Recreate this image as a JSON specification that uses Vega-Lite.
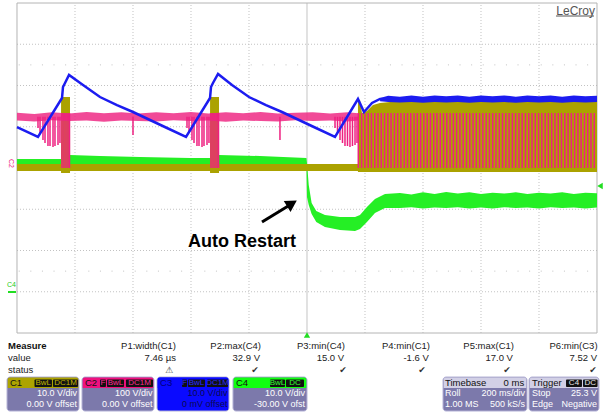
{
"$schema":"https://vega.github.io/schema/vega-lite/v6.json",
"width":605,"height":413,
"autosize":{"type":"fit","contains":"padding"},
"padding":0,
"background":"white",
"config":{"view":{"stroke":null},"text":{"font":"Liberation Sans"}},
"datasets":{
"grid":[{"x":1,"x2":1,"y":0,"y2":8},{"x":2,"x2":2,"y":0,"y2":8},{"x":3,"x2":3,"y":0,"y2":8},{"x":4,"x2":4,"y":0,"y2":8},{"x":6,"x2":6,"y":0,"y2":8},{"x":7,"x2":7,"y":0,"y2":8},{"x":8,"x2":8,"y":0,"y2":8},{"x":9,"x2":9,"y":0,"y2":8},
{"x":0,"x2":10,"y":1,"y2":1},{"x":0,"x2":10,"y":2,"y2":2},{"x":0,"x2":10,"y":3,"y2":3},{"x":0,"x2":10,"y":4,"y2":4},{"x":0,"x2":10,"y":5,"y2":5},{"x":0,"x2":10,"y":6,"y2":6},{"x":0,"x2":10,"y":7,"y2":7}],
"dotrows":[{"x":0.03,"x2":10,"y":6.5,"y2":6.5},{"x":0.03,"x2":10,"y":1.5,"y2":1.5}],
"center":[{"x":5,"x2":5,"y":0,"y2":8}],
"frame":[{"x":0,"x2":10,"y":0,"y2":8}],
"ticks":[{"y":0.2},{"y":0.4},{"y":0.6},{"y":0.8},{"y":1.0},{"y":1.2},{"y":1.4},{"y":1.6},{"y":1.8},{"y":2.0},{"y":2.2},{"y":2.4},{"y":2.6},{"y":2.8},{"y":3.0},{"y":3.2},{"y":3.4},{"y":3.6},{"y":3.8},{"y":4.0},{"y":4.2},{"y":4.4},{"y":4.6},{"y":4.8},{"y":5.0},{"y":5.2},{"y":5.4},{"y":5.6},{"y":5.8},{"y":6.0},{"y":6.2},{"y":6.4},{"y":6.6},{"y":6.8},{"y":7.0},{"y":7.2},{"y":7.4},{"y":7.6},{"y":7.8}],
"green":[{"x":0,"y":4.218,"y2":4.048},{"x":0.759,"y":4.218,"y2":4.048},{"x":0.914,"y":4.315,"y2":4.048},{"x":1.431,"y":4.291,"y2":4.048},{"x":2.121,"y":4.267,"y2":4.048},{"x":2.983,"y":4.242,"y2":4.048},{"x":3.328,"y":4.242,"y2":4.048},{"x":3.483,"y":4.315,"y2":4.048},{"x":4.19,"y":4.291,"y2":4.048},{"x":4.99,"y":4.242,"y2":4.048},
{"x":5.0,"y":4.12,"y2":3.297},{"x":5.03,"y":3.588,"y2":3.103},{"x":5.08,"y":3.152,"y2":2.885},{"x":5.16,"y":2.958,"y2":2.691},{"x":5.31,"y":2.861,"y2":2.57},{"x":5.569,"y":2.812,"y2":2.497},{"x":5.828,"y":2.812,"y2":2.473},{"x":5.914,"y":2.861,"y2":2.521},{"x":6.034,"y":3.055,"y2":2.691},{"x":6.172,"y":3.248,"y2":2.909},{"x":6.345,"y":3.37,"y2":3.03},{"x":6.603,"y":3.394,"y2":3.03},
{"x":6.8,"y":3.36,"y2":3.05},{"x":7.0,"y":3.41,"y2":3.02},{"x":7.2,"y":3.37,"y2":3.04},{"x":7.4,"y":3.42,"y2":3.03},{"x":7.6,"y":3.38,"y2":3.05},{"x":7.8,"y":3.41,"y2":3.02},{"x":8.0,"y":3.37,"y2":3.04},{"x":8.2,"y":3.4,"y2":3.02},{"x":8.4,"y":3.38,"y2":3.05},{"x":8.6,"y":3.41,"y2":3.03},{"x":8.8,"y":3.37,"y2":3.04},{"x":9.0,"y":3.4,"y2":3.02},{"x":9.2,"y":3.38,"y2":3.05},{"x":9.4,"y":3.41,"y2":3.03},{"x":9.6,"y":3.37,"y2":3.04},{"x":9.8,"y":3.4,"y2":3.02},{"x":10.0,"y":3.39,"y2":3.04}],
"olive":[{"x":0,"y":4.097,"y2":3.927},{"x":0.759,"y":4.097,"y2":3.927},{"x":0.76,"y":5.721,"y2":3.879},{"x":0.914,"y":5.721,"y2":3.879},{"x":0.915,"y":4.097,"y2":3.927},{"x":3.328,"y":4.097,"y2":3.927},{"x":3.329,"y":5.721,"y2":3.879},{"x":3.483,"y":5.721,"y2":3.879},{"x":3.484,"y":4.097,"y2":3.927},{"x":5.878,"y":4.097,"y2":3.927},{"x":5.879,"y":5.648,"y2":3.903},{"x":5.914,"y":5.648,"y2":3.903},{"x":5.948,"y":5.333,"y2":3.903},{"x":6.034,"y":5.382,"y2":3.903},{"x":6.138,"y":5.527,"y2":3.903},{"x":6.259,"y":5.576,"y2":3.903},{"x":6.431,"y":5.6,"y2":3.903},{"x":6.603,"y":5.624,"y2":3.903},{"x":10.0,"y":5.612,"y2":3.903}],
"magband":[{"x":0,"y":5.34,"y2":5.15},{"x":0.3,"y":5.31,"y2":5.13},{"x":0.6,"y":5.35,"y2":5.16},{"x":0.9,"y":5.32,"y2":5.14},{"x":1.2,"y":5.36,"y2":5.15},{"x":1.5,"y":5.33,"y2":5.12},{"x":1.8,"y":5.35,"y2":5.15},{"x":2.1,"y":5.32,"y2":5.14},{"x":2.4,"y":5.35,"y2":5.13},{"x":2.7,"y":5.33,"y2":5.16},{"x":3.0,"y":5.36,"y2":5.14},{"x":3.3,"y":5.32,"y2":5.15},{"x":3.6,"y":5.35,"y2":5.12},{"x":3.9,"y":5.33,"y2":5.15},{"x":4.2,"y":5.36,"y2":5.14},{"x":4.5,"y":5.32,"y2":5.13},{"x":4.8,"y":5.34,"y2":5.16},{"x":5.1,"y":5.35,"y2":5.14},{"x":5.4,"y":5.32,"y2":5.15},{"x":5.7,"y":5.35,"y2":5.13},{"x":5.879,"y":5.33,"y2":5.15}],
"mag":[{"x":0.362,"y":5.24,"y2":4.97},{"x":0.397,"y":5.24,"y2":4.848},{"x":0.448,"y":5.24,"y2":4.679},{"x":0.483,"y":5.24,"y2":4.606},{"x":0.534,"y":5.24,"y2":4.533},{"x":0.569,"y":5.24,"y2":4.533},{"x":0.621,"y":5.24,"y2":4.509},{"x":0.655,"y":5.24,"y2":4.533},{"x":0.707,"y":5.24,"y2":4.558},{"x":0.741,"y":5.24,"y2":4.606},
{"x":2.931,"y":5.24,"y2":4.97},{"x":2.966,"y":5.24,"y2":4.848},{"x":3.017,"y":5.24,"y2":4.679},{"x":3.052,"y":5.24,"y2":4.606},{"x":3.103,"y":5.24,"y2":4.533},{"x":3.138,"y":5.24,"y2":4.533},{"x":3.19,"y":5.24,"y2":4.509},{"x":3.224,"y":5.24,"y2":4.533},{"x":3.276,"y":5.24,"y2":4.558},{"x":3.31,"y":5.24,"y2":4.606},
{"x":5.483,"y":5.24,"y2":4.97},{"x":5.526,"y":5.24,"y2":4.848},{"x":5.569,"y":5.24,"y2":4.679},{"x":5.612,"y":5.24,"y2":4.606},{"x":5.655,"y":5.24,"y2":4.533},{"x":5.698,"y":5.24,"y2":4.533},{"x":5.741,"y":5.24,"y2":4.509},{"x":5.784,"y":5.24,"y2":4.533},{"x":5.828,"y":5.24,"y2":4.558},{"x":5.862,"y":5.24,"y2":4.606},
{"x":2.0,"y":5.24,"y2":4.8},{"x":4.534,"y":5.24,"y2":4.679},
{"x":0.776,"y":5.333,"y2":4.0},{"x":0.81,"y":5.333,"y2":4.0},{"x":0.845,"y":5.333,"y2":4.0},{"x":0.879,"y":5.333,"y2":4.0},{"x":0.905,"y":5.333,"y2":4.0},{"x":3.345,"y":5.333,"y2":4.0},{"x":3.379,"y":5.333,"y2":4.0},{"x":3.414,"y":5.333,"y2":4.0},{"x":3.448,"y":5.333,"y2":4.0},{"x":3.474,"y":5.333,"y2":4.0},
{"x":5.885,"y":5.333,"y2":4.0},{"x":5.942,"y":5.333,"y2":4.0},{"x":5.998,"y":5.333,"y2":4.0},{"x":6.055,"y":5.333,"y2":4.0},{"x":6.111,"y":5.333,"y2":4.0},{"x":6.168,"y":5.333,"y2":4.0},{"x":6.224,"y":5.333,"y2":4.0},{"x":6.281,"y":5.333,"y2":4.0},{"x":6.337,"y":5.333,"y2":4.0},{"x":6.394,"y":5.333,"y2":4.0},{"x":6.45,"y":5.333,"y2":4.0},{"x":6.507,"y":5.333,"y2":4.0},{"x":6.563,"y":5.333,"y2":4.0},{"x":6.62,"y":5.333,"y2":4.0},{"x":6.676,"y":5.333,"y2":4.0},{"x":6.733,"y":5.333,"y2":4.0},{"x":6.789,"y":5.333,"y2":4.0},{"x":6.846,"y":5.333,"y2":4.0},{"x":6.902,"y":5.333,"y2":4.0},{"x":6.959,"y":5.333,"y2":4.0},{"x":7.015,"y":5.333,"y2":4.0},{"x":7.072,"y":5.333,"y2":4.0},{"x":7.128,"y":5.333,"y2":4.0},{"x":7.185,"y":5.333,"y2":4.0},{"x":7.241,"y":5.333,"y2":4.0},{"x":7.298,"y":5.333,"y2":4.0},{"x":7.354,"y":5.333,"y2":4.0},{"x":7.411,"y":5.333,"y2":4.0},{"x":7.467,"y":5.333,"y2":4.0},{"x":7.524,"y":5.333,"y2":4.0},{"x":7.58,"y":5.333,"y2":4.0},{"x":7.637,"y":5.333,"y2":4.0},{"x":7.693,"y":5.333,"y2":4.0},{"x":7.75,"y":5.333,"y2":4.0},{"x":7.806,"y":5.333,"y2":4.0},{"x":7.863,"y":5.333,"y2":4.0},{"x":7.919,"y":5.333,"y2":4.0},{"x":7.976,"y":5.333,"y2":4.0},{"x":8.032,"y":5.333,"y2":4.0},{"x":8.089,"y":5.333,"y2":4.0},{"x":8.145,"y":5.333,"y2":4.0},{"x":8.202,"y":5.333,"y2":4.0},{"x":8.258,"y":5.333,"y2":4.0},{"x":8.315,"y":5.333,"y2":4.0},{"x":8.371,"y":5.333,"y2":4.0},{"x":8.428,"y":5.333,"y2":4.0},{"x":8.484,"y":5.333,"y2":4.0},{"x":8.541,"y":5.333,"y2":4.0},{"x":8.597,"y":5.333,"y2":4.0},{"x":8.654,"y":5.333,"y2":4.0},{"x":8.71,"y":5.333,"y2":4.0},{"x":8.767,"y":5.333,"y2":4.0},{"x":8.823,"y":5.333,"y2":4.0},{"x":8.88,"y":5.333,"y2":4.0},{"x":8.936,"y":5.333,"y2":4.0},{"x":8.993,"y":5.333,"y2":4.0},{"x":9.049,"y":5.333,"y2":4.0},{"x":9.106,"y":5.333,"y2":4.0},{"x":9.162,"y":5.333,"y2":4.0},{"x":9.219,"y":5.333,"y2":4.0},{"x":9.275,"y":5.333,"y2":4.0},{"x":9.332,"y":5.333,"y2":4.0},{"x":9.388,"y":5.333,"y2":4.0},{"x":9.445,"y":5.333,"y2":4.0},{"x":9.501,"y":5.333,"y2":4.0},{"x":9.558,"y":5.333,"y2":4.0},{"x":9.614,"y":5.333,"y2":4.0},{"x":9.671,"y":5.333,"y2":4.0},{"x":9.727,"y":5.333,"y2":4.0},{"x":9.784,"y":5.333,"y2":4.0},{"x":9.84,"y":5.333,"y2":4.0},{"x":9.897,"y":5.333,"y2":4.0},{"x":9.953,"y":5.333,"y2":4.0}],
"blueband":[{"x":6.26,"y":5.7,"y2":5.62},{"x":6.4,"y":5.75,"y2":5.6},{"x":6.6,"y":5.73,"y2":5.59},{"x":6.8,"y":5.76,"y2":5.6},{"x":7.0,"y":5.73,"y2":5.58},{"x":7.2,"y":5.76,"y2":5.6},{"x":7.4,"y":5.74,"y2":5.59},{"x":7.6,"y":5.76,"y2":5.6},{"x":7.8,"y":5.73,"y2":5.58},{"x":8.0,"y":5.76,"y2":5.6},{"x":8.2,"y":5.74,"y2":5.59},{"x":8.4,"y":5.76,"y2":5.6},{"x":8.6,"y":5.73,"y2":5.58},{"x":8.8,"y":5.76,"y2":5.6},{"x":9.0,"y":5.74,"y2":5.59},{"x":9.2,"y":5.76,"y2":5.6},{"x":9.4,"y":5.73,"y2":5.58},{"x":9.6,"y":5.76,"y2":5.6},{"x":9.8,"y":5.74,"y2":5.59},{"x":10.0,"y":5.75,"y2":5.6}],
"blue":[{"x":0,"y":4.994},{"x":0.362,"y":4.752},{"x":0.776,"y":5.697},{"x":0.793,"y":5.964},{"x":0.828,"y":6.061},{"x":0.897,"y":6.255},{"x":1.138,"y":6.012},{"x":1.431,"y":5.721},{"x":1.724,"y":5.527},{"x":2.0,"y":5.358},{"x":2.293,"y":5.164},{"x":2.586,"y":4.97},{"x":2.914,"y":4.752},{"x":3.328,"y":5.697},{"x":3.345,"y":5.964},{"x":3.379,"y":6.061},{"x":3.466,"y":6.279},{"x":3.707,"y":6.012},{"x":4.0,"y":5.721},{"x":4.293,"y":5.527},{"x":4.569,"y":5.358},{"x":4.862,"y":5.164},{"x":5.155,"y":4.97},{"x":5.483,"y":4.752},{"x":5.879,"y":5.673},{"x":5.983,"y":5.358},{"x":6.121,"y":5.576},{"x":6.259,"y":5.673},{"x":10.0,"y":5.67}],
"arrow":[{"x":4.224,"y":2.691,"x2":4.69,"y2":3.091}],
"arrowhead":[{"x":4.741,"y":3.139}],
"anno":[{"x":2.948,"y":2.085,"t":"Auto Restart"}],
"logo":[{"x":9.966,"y":7.721,"t":"LeCroy"}],
"logoline":[{"x":9.293,"x2":9.948,"y":7.685,"y2":7.685}],
"trigB":[{"x":5,"y":-0.048}],
"trigR":[{"x":10.052,"y":3.564}],
"c2lab":[{"x":-0.103,"y":4.109,"t":"C2"}],
"c4lab":[{"x":-0.095,"y":1.152,"t":"C4"}],
"c4line":[{"x":-0.155,"x2":-0.017,"y":0.994,"y2":0.994}],
"mBold":[{"x":-0.155,"y":-0.315,"t":"Measure"}],
"mLeft":[{"x":-0.155,"y":-0.594,"t":"value"},{"x":-0.155,"y":-0.897,"t":"status"}],
"mRight":[{"x":2.741,"y":-0.315,"t":"P1:width(C1)"},{"x":4.207,"y":-0.315,"t":"P2:max(C4)"},{"x":5.655,"y":-0.315,"t":"P3:min(C4)"},{"x":7.121,"y":-0.315,"t":"P4:min(C1)"},{"x":8.569,"y":-0.315,"t":"P5:max(C1)"},{"x":10.01,"y":-0.315,"t":"P6:min(C3)"},
{"x":2.741,"y":-0.594,"t":"7.46 µs"},{"x":4.19,"y":-0.594,"t":"32.9 V"},{"x":5.64,"y":-0.594,"t":"15.0 V"},{"x":7.1,"y":-0.594,"t":"-1.6 V"},{"x":8.55,"y":-0.594,"t":"17.0 V"},{"x":10.0,"y":-0.594,"t":"7.52 V"}],
"mStat":[{"x":2.621,"y":-0.897,"t":"⚠"},{"x":4.103,"y":-0.897,"t":"✔"},{"x":5.621,"y":-0.897,"t":"✔"},{"x":6.983,"y":-0.897,"t":"✔"},{"x":8.448,"y":-0.897,"t":"✔"},{"x":9.931,"y":-0.897,"t":"✔"}],
"boxes":[{"ch":"C1","x":-0.172,"x2":1.069,"y":-1.067,"y2":-1.891},{"ch":"C2","x":1.121,"x2":2.362,"y":-1.067,"y2":-1.891},{"ch":"C3","x":2.414,"x2":3.655,"y":-1.067,"y2":-1.891},{"ch":"C4","x":3.724,"x2":5.0,"y":-1.067,"y2":-1.891},{"ch":"TB","x":7.345,"x2":8.793,"y":-1.067,"y2":-1.891},{"ch":"TR","x":8.828,"x2":10.034,"y":-1.067,"y2":-1.891}],
"heads":[{"ch":"C1","x":-0.16,"x2":1.057,"y":-1.079,"y2":-1.333},{"ch":"C2","x":1.133,"x2":2.35,"y":-1.079,"y2":-1.333},{"ch":"C3","x":2.426,"x2":3.643,"y":-1.079,"y2":-1.333},{"ch":"C4","x":3.736,"x2":4.988,"y":-1.079,"y2":-1.333},{"ch":"TB","x":7.357,"x2":8.781,"y":-1.079,"y2":-1.333},{"ch":"TR","x":8.84,"x2":10.022,"y":-1.079,"y2":-1.333}],
"badges":[{"ch":"C1","x":0.302,"x2":0.603,"y":-1.127,"y2":-1.309,"t":"BwL"},{"ch":"C1","x":0.621,"x2":1.052,"y":-1.127,"y2":-1.309,"t":"DC1M"},
{"ch":"C2","x":1.431,"x2":1.534,"y":-1.127,"y2":-1.309,"t":"F"},{"ch":"C2","x":1.552,"x2":1.845,"y":-1.127,"y2":-1.309,"t":"BwL"},{"ch":"C2","x":1.879,"x2":2.345,"y":-1.127,"y2":-1.309,"t":"DC1M"},
{"ch":"C3","x":2.845,"x2":2.931,"y":-1.127,"y2":-1.309,"t":"F"},{"ch":"C3","x":2.948,"x2":3.241,"y":-1.127,"y2":-1.309,"t":"BwL"},{"ch":"C3","x":3.276,"x2":3.638,"y":-1.127,"y2":-1.309,"t":"DC1M"},
{"ch":"C4","x":4.362,"x2":4.621,"y":-1.127,"y2":-1.309,"t":"BwL"},{"ch":"C4","x":4.638,"x2":4.948,"y":-1.127,"y2":-1.309,"t":"DC"},
{"ch":"TR","x":9.466,"x2":9.741,"y":-1.127,"y2":-1.309,"t":"C4"},{"ch":"TR","x":9.759,"x2":10.01,"y":-1.127,"y2":-1.309,"t":"DC"}],
"badgeTxt":[{"ch":"C1","x":0.453,"y":-1.218,"t":"BwL"},{"ch":"C1","x":0.836,"y":-1.218,"t":"DC1M"},{"ch":"C2","x":1.483,"y":-1.218,"t":"F"},{"ch":"C2","x":1.698,"y":-1.218,"t":"BwL"},{"ch":"C2","x":2.112,"y":-1.218,"t":"DC1M"},{"ch":"C3","x":2.888,"y":-1.218,"t":"F"},{"ch":"C3","x":3.095,"y":-1.218,"t":"BwL"},{"ch":"C3","x":3.457,"y":-1.218,"t":"DC1M"},{"ch":"C4","x":4.491,"y":-1.218,"t":"BwL"},{"ch":"C4","x":4.793,"y":-1.218,"t":"DC"},{"ch":"TR","x":9.603,"y":-1.218,"t":"C4"},{"ch":"TR","x":9.885,"y":-1.218,"t":"DC"}],
"headTxt":[{"ch":"C1","x":-0.121,"y":-1.212,"t":"C1"},{"ch":"C2","x":1.172,"y":-1.212,"t":"C2"},{"ch":"C3","x":2.466,"y":-1.212,"t":"C3"},{"ch":"C4","x":3.776,"y":-1.212,"t":"C4"},{"ch":"TB","x":7.379,"y":-1.212,"t":"Timebase"},{"ch":"TR","x":8.879,"y":-1.212,"t":"Trigger"}],
"headTxtR":[{"x":8.745,"y":-1.212,"t":"0 ms"}],
"bodyR":[{"ch":"C1","x":1.034,"y":-1.455,"t":"10.0 V/div"},{"ch":"C1","x":1.034,"y":-1.721,"t":"0.00 V offset"},{"ch":"C2","x":2.335,"y":-1.455,"t":"100 V/div"},{"ch":"C2","x":2.335,"y":-1.721,"t":"0.00 V offset"},{"ch":"C3","x":3.628,"y":-1.455,"t":"10.0 V/div"},{"ch":"C3","x":3.628,"y":-1.721,"t":"0 mV offset"},{"ch":"C4","x":4.966,"y":-1.455,"t":"10.0 V/div"},{"ch":"C4","x":4.966,"y":-1.721,"t":"-30.00 V ofst"},{"ch":"TB","x":8.76,"y":-1.455,"t":"200 ms/div"},{"ch":"TB","x":8.76,"y":-1.721,"t":"500 kS/s"},{"ch":"TR","x":10.0,"y":-1.455,"t":"25.3 V"},{"ch":"TR","x":10.0,"y":-1.721,"t":"Negative"}],
"bodyL":[{"x":7.379,"y":-1.455,"t":"Roll"},{"x":7.379,"y":-1.721,"t":"1.00 MS"},{"x":8.879,"y":-1.455,"t":"Stop"},{"x":8.879,"y":-1.721,"t":"Edge"}]
},
"encoding":{
"x":{"field":"x","type":"quantitative","scale":{"domain":[-0.293,10.138],"nice":false,"zero":false},"axis":null},
"y":{"field":"y","type":"quantitative","scale":{"domain":[-1.939,8.073],"nice":false,"zero":false},"axis":null}
},
"resolve":{"scale":{"color":"independent"}},
"layer":[
{"data":{"name":"grid"},"mark":{"type":"rule","color":"#c2c2c2","strokeWidth":1,"strokeDash":[1,2]},"encoding":{"x2":{"field":"x2"},"y2":{"field":"y2"}}},
{"data":{"name":"dotrows"},"mark":{"type":"rule","color":"#c2c2c2","strokeWidth":1,"strokeDash":[1,10.6]},"encoding":{"x2":{"field":"x2"},"y2":{"field":"y2"}}},
{"data":{"name":"center"},"mark":{"type":"rule","color":"#c4c4c4","strokeWidth":1},"encoding":{"x2":{"field":"x2"},"y2":{"field":"y2"}}},
{"data":{"name":"ticks"},"mark":{"type":"rule","color":"#b8b8b8","strokeWidth":1},"encoding":{"x":{"datum":4.955,"type":"quantitative","scale":{"domain":[-0.293,10.138],"nice":false,"zero":false},"axis":null},"x2":{"datum":5.045}}},
{"data":{"name":"frame"},"mark":{"type":"rect","fillOpacity":0,"stroke":"#b4b4b4","strokeWidth":1},"encoding":{"x2":{"field":"x2"},"y2":{"field":"y2"}}},
{"data":{"name":"green"},"mark":{"type":"area","color":"#25ef25"},"encoding":{"y2":{"field":"y2"}}},
{"data":{"name":"olive"},"mark":{"type":"area","color":"#aba200"},"encoding":{"y2":{"field":"y2"}}},
{"data":{"name":"magband"},"mark":{"type":"area","color":"#ee2a85","opacity":0.85},"encoding":{"y2":{"field":"y2"}}},
{"data":{"name":"mag"},"mark":{"type":"rule","color":"#ee2080","strokeWidth":1.5},"encoding":{"y2":{"field":"y2"}}},
{"data":{"name":"blueband"},"mark":{"type":"area","color":"#1c1cf0"},"encoding":{"y2":{"field":"y2"}}},
{"data":{"name":"blue"},"mark":{"type":"line","color":"#1c1cf0","strokeWidth":2.5},"encoding":{}},
{"data":{"name":"trigB"},"mark":{"type":"point","shape":"triangle-up","filled":true,"color":"#22dd22","size":40,"opacity":1},"encoding":{}},
{"data":{"name":"trigR"},"mark":{"type":"point","shape":"triangle-left","filled":true,"color":"#22dd22","size":40,"opacity":1},"encoding":{}},
{"data":{"name":"c2lab"},"mark":{"type":"text","color":"#ee2080","fontSize":7,"angle":90,"align":"center","baseline":"middle"},"encoding":{"text":{"field":"t"}}},
{"data":{"name":"c4lab"},"mark":{"type":"text","color":"#22cc22","fontSize":7,"align":"center","baseline":"middle"},"encoding":{"text":{"field":"t"}}},
{"data":{"name":"c4line"},"mark":{"type":"rule","color":"#22dd22","strokeWidth":2},"encoding":{"x2":{"field":"x2"},"y2":{"field":"y2"}}},
{"data":{"name":"logo"},"mark":{"type":"text","color":"#555555","fontSize":12,"align":"right","baseline":"alphabetic"},"encoding":{"text":{"field":"t"}}},
{"data":{"name":"logoline"},"mark":{"type":"rule","color":"#555555","strokeWidth":1},"encoding":{"x2":{"field":"x2"},"y2":{"field":"y2"}}},
{"data":{"name":"arrow"},"mark":{"type":"rule","color":"#000000","strokeWidth":3},"encoding":{"x2":{"field":"x2"},"y2":{"field":"y2"}}},
{"data":{"name":"arrowhead"},"mark":{"type":"point","shape":"triangle-up","filled":true,"color":"#000000","size":170,"angle":58.6,"opacity":1},"encoding":{}},
{"data":{"name":"anno"},"mark":{"type":"text","color":"#000000","fontSize":18,"fontWeight":"bold","align":"left","baseline":"alphabetic"},"encoding":{"text":{"field":"t"}}},
{"data":{"name":"mBold"},"mark":{"type":"text","color":"#111111","fontSize":9.5,"fontWeight":"bold","align":"left","baseline":"middle"},"encoding":{"text":{"field":"t"}}},
{"data":{"name":"mLeft"},"mark":{"type":"text","color":"#222222","fontSize":9.5,"align":"left","baseline":"middle"},"encoding":{"text":{"field":"t"}}},
{"data":{"name":"mRight"},"mark":{"type":"text","color":"#222222","fontSize":9.5,"align":"right","baseline":"middle"},"encoding":{"text":{"field":"t"}}},
{"data":{"name":"mStat"},"mark":{"type":"text","color":"#333333","fontSize":9,"font":"DejaVu Sans","align":"center","baseline":"middle"},"encoding":{"text":{"field":"t"}}},
{"data":{"name":"boxes"},"mark":{"type":"rect","stroke":"#b4b2d6","strokeWidth":1,"cornerRadius":3},"encoding":{"x2":{"field":"x2"},"y2":{"field":"y2"},"color":{"field":"ch","type":"nominal","scale":{"domain":["C1","C2","C3","C4","TB","TR"],"range":["#7c79ab","#7c79ab","#0a0aff","#7c79ab","#7c79ab","#7c79ab"]},"legend":null}}},
{"data":{"name":"heads"},"mark":{"type":"rect","cornerRadiusTopLeft":2,"cornerRadiusTopRight":2},"encoding":{"x2":{"field":"x2"},"y2":{"field":"y2"},"color":{"field":"ch","type":"nominal","scale":{"domain":["C1","C2","C3","C4","TB","TR"],"range":["#ada400","#f0107f","#0a0aff","#11ff11","#d2d0e6","#d2d0e6"]},"legend":null}}},
{"data":{"name":"badges"},"mark":{"type":"rect","color":"#111111","cornerRadius":1},"encoding":{"x2":{"field":"x2"},"y2":{"field":"y2"}}},
{"data":{"name":"badgeTxt"},"mark":{"type":"text","fontSize":8,"align":"center","baseline":"middle"},"encoding":{"text":{"field":"t"},"color":{"field":"ch","type":"nominal","scale":{"domain":["C1","C2","C3","C4","TR"],"range":["#c0b600","#ff2a92","#2a2aff","#33ff33","#e8e8e8"]},"legend":null}}},
{"data":{"name":"headTxt"},"mark":{"type":"text","fontSize":9.5,"align":"left","baseline":"middle"},"encoding":{"text":{"field":"t"},"color":{"field":"ch","type":"nominal","scale":{"domain":["C1","C2","C3","C4","TB","TR"],"range":["#111111","#111111","#00007a","#111111","#111111","#111111"]},"legend":null}}},
{"data":{"name":"headTxtR"},"mark":{"type":"text","fontSize":9.5,"color":"#111111","align":"right","baseline":"middle"},"encoding":{"text":{"field":"t"}}},
{"data":{"name":"bodyR"},"mark":{"type":"text","fontSize":9,"align":"right","baseline":"middle"},"encoding":{"text":{"field":"t"},"color":{"field":"ch","type":"nominal","scale":{"domain":["C1","C2","C3","C4","TB","TR"],"range":["#ffffff","#ffffff","#0a0a50","#ffffff","#ffffff","#ffffff"]},"legend":null}}},
{"data":{"name":"bodyL"},"mark":{"type":"text","fontSize":9,"color":"#ffffff","align":"left","baseline":"middle"},"encoding":{"text":{"field":"t"}}}
]
}
